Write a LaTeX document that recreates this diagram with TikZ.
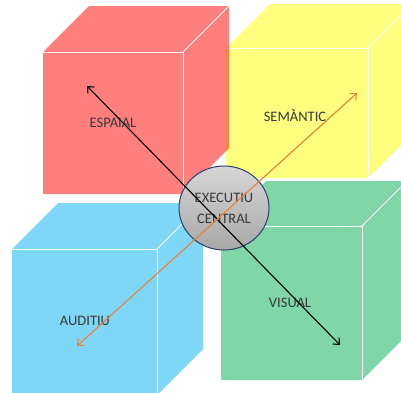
\documentclass[tikz,border=0pt]{standalone}
\usepackage{fontspec}
\setmainfont{Carlito}
\usetikzlibrary{arrows.meta,shapes.geometric}

\definecolor{espred}{RGB}{255,0,0}
\definecolor{semyellow}{RGB}{255,255,0}
\definecolor{visgreen}{RGB}{0,176,80}
\definecolor{audblue}{RGB}{0,176,240}
\definecolor{darkline}{RGB}{40,62,110}
\definecolor{arroworange}{RGB}{237,125,49}
\definecolor{labelgray}{RGB}{56,56,56}

\begin{document}
\begin{tikzpicture}[x=1pt,y=-1pt,
    >={Straight Barb[length=5pt,width=9pt]},
    face/.style = {fill opacity=0.5},
    edge/.style = {white, line width=0.9pt},
    boxtext/.style = {
      text = labelgray,
      font = \fontsize{14.5}{16}\selectfont
    }
  ]
  \useasboundingbox (0,0) rectangle (401,392);
  \clip (0,0) rectangle (401,392);

  % x/y of front corner, width, height, depth, colour
  \foreach \x/\y/\w/\h/\d/\c in {226/48/142/130/44/semyellow,
      43/52/140/142/46/espred,
      221/226/141/154/45/visgreen,
      12/249/145/146/46/audblue} {
    \fill[\c, face] (\x,\y+\h) -- (\x,\y) -- ++(\d,-\d) -- ++(\w,0)
      -- ++(0,\h) -- ++(-\d,\d) -- cycle;
    \draw[edge] (\x,\y) -- ++(\w,0) -- ++(0,\h);
    \draw[edge] (\x+\w,\y) -- ++(\d,-\d);
  }

  \node[boxtext] (espaial)  at (113,123) {ESPAIAL};
  \node[boxtext] (semantic) at (295,115) {SEMÀNTIC};
  \node[boxtext] (auditiu)  at (85,321)  {AUDITIU};
  \node[boxtext] (visual)   at (290,303) {VISUAL};

  \node[ellipse, draw=darkline, line width=1pt,
    top color=gray!32, bottom color=gray!68,
    minimum width=90pt, minimum height=84pt, inner sep=0pt,
    text=labelgray, align=center,
    font=\fontsize{14.5}{21}\selectfont] (central) at (224,208) {EXECUTIU\\CENTRAL};

  \coordinate (espaialtip)  at (87,86);
  \coordinate (visualtip)   at (340,345);
  \coordinate (semantictip) at (357,93);
  \coordinate (auditiutip)  at (77,346);

  \draw[<->, line width=1.1pt] (espaialtip) -- (visualtip);
  \draw[<->, arroworange, line width=1.1pt] (semantictip) -- (auditiutip);
\end{tikzpicture}
\end{document}
